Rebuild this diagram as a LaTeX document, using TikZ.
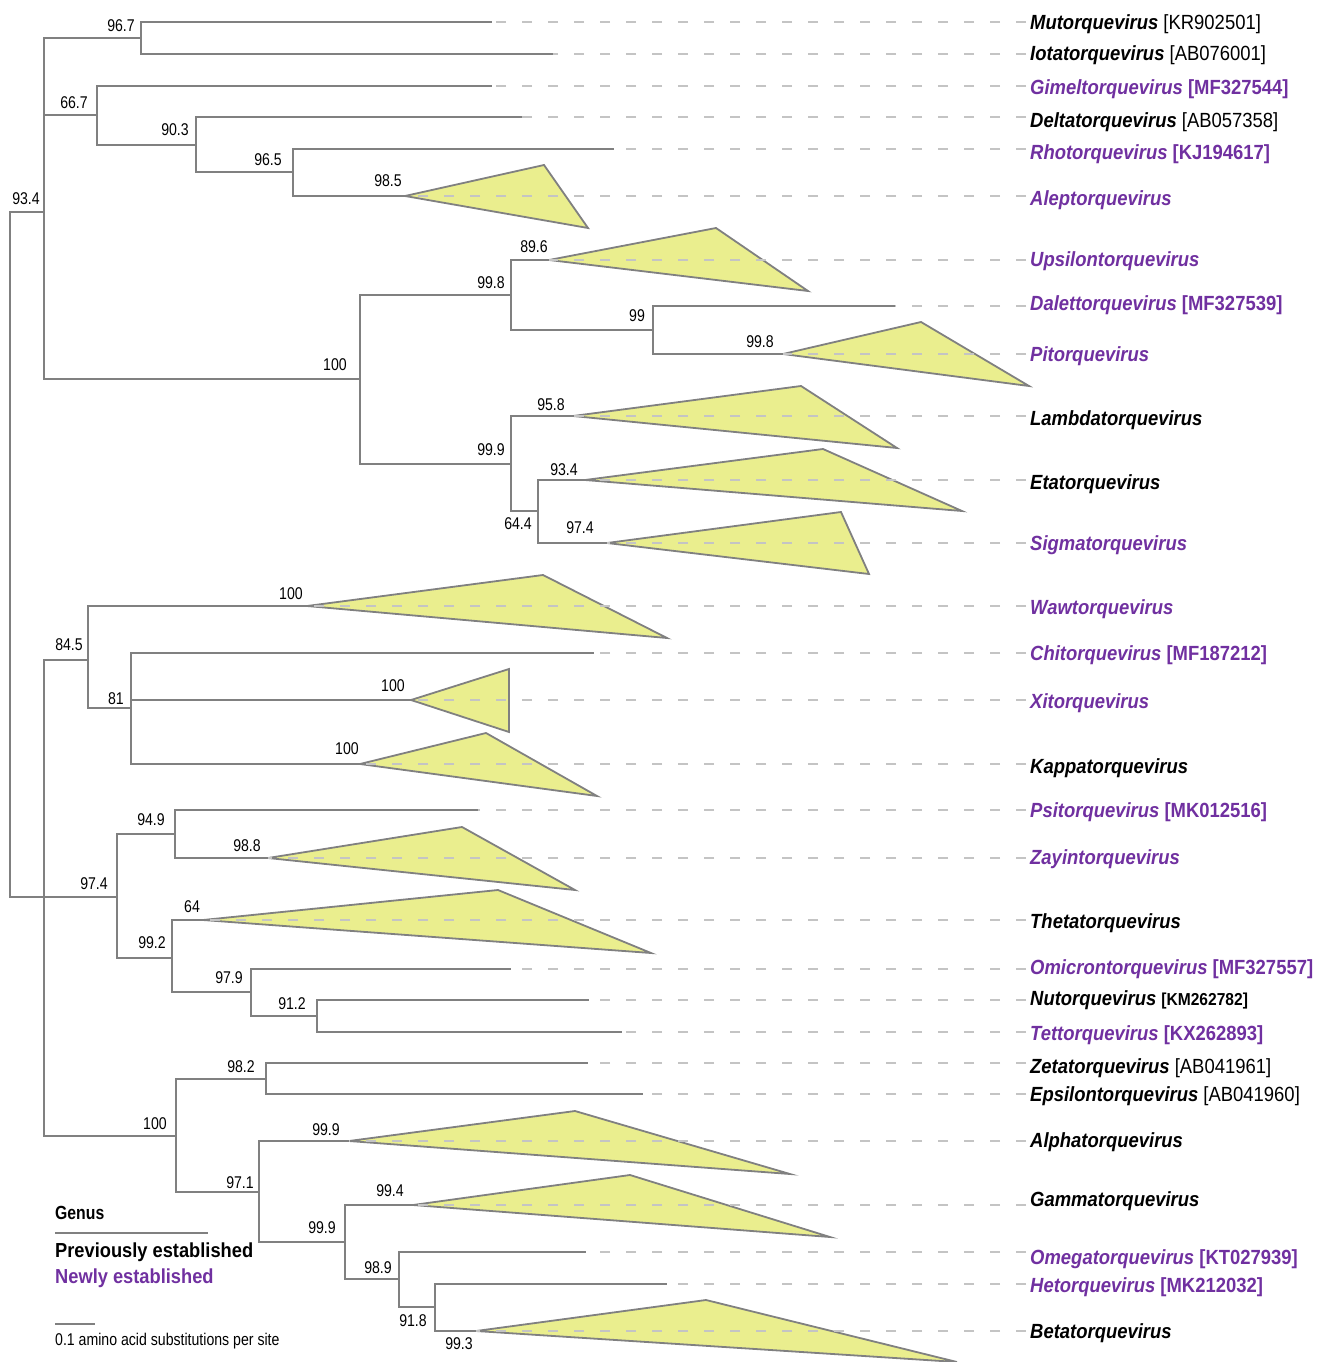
\documentclass[tikz,border=0pt]{standalone}
\usepackage{fontspec}
\setmainfont{Liberation Sans}
\newfontfamily\narrowfont{Liberation Sans}[FakeStretch=0.83]
\newfontfamily\labfont{Liberation Sans}[FakeStretch=0.9]
\definecolor{treegray}{HTML}{808080}
\definecolor{dashgray}{HTML}{C4C4C4}
\definecolor{purp}{HTML}{7030A0}
\definecolor{cladefill}{HTML}{EAEE8E}
\newcommand\gname[1]{\textbf{\textit{#1}}}
\newcommand\accb[1]{\textbf{#1}}
\begin{document}
\begin{tikzpicture}[x=1pt,y=-1pt,
  br/.style={draw=treegray,line width=2pt},
  tri/.style={draw=treegray,fill=cladefill,line width=1.8pt,line join=miter},
  dl/.style={draw=dashgray,line width=1.3pt,dash pattern=on 10pt off 16pt},
  bs/.style={inner sep=0pt,font=\narrowfont\fontsize{17}{19}\selectfont},
  lab/.style={anchor=base west,inner sep=0pt,font=\labfont\fontsize{20.5}{24}\selectfont},
  blk/.style={lab,text=black},
  pur/.style={lab,text=purp}]
\useasboundingbox (0,0) rectangle (1324,1362);
% internal nodes
\coordinate (root) at (10,555);
\coordinate (A) at (44,212);
\coordinate (B) at (141,38);
\coordinate (C) at (97,115);
\coordinate (D) at (360,379);
\coordinate (E) at (196,145);
\coordinate (F) at (293,172);
\coordinate (G) at (511,295);
\coordinate (H) at (653,330);
\coordinate (I) at (511,464);
\coordinate (J) at (538,511);
\coordinate (K) at (44,897);
\coordinate (L) at (88,660);
\coordinate (M) at (131,708);
\coordinate (N) at (117,897);
\coordinate (O) at (175,834);
\coordinate (P) at (172,958);
\coordinate (Q) at (251,992);
\coordinate (R) at (317,1016);
\coordinate (S) at (176,1136);
\coordinate (T) at (266,1079);
\coordinate (U) at (259,1192);
\coordinate (V) at (345,1242);
\coordinate (W) at (399,1279);
\coordinate (X) at (435,1307);
% leaves / clade apexes
\coordinate (muto) at (492,22);
\coordinate (iota) at (553,54);
\coordinate (gimel) at (492,86);
\coordinate (delta) at (522,117);
\coordinate (rho) at (614,149);
\coordinate (alep) at (405,196);
\coordinate (ups) at (549,260);
\coordinate (dalet) at (895,306);
\coordinate (pito) at (783,354);
\coordinate (lambda) at (573,416);
\coordinate (eta) at (585,480);
\coordinate (sigma) at (607,543);
\coordinate (waw) at (307,606);
\coordinate (chito) at (594,653);
\coordinate (xito) at (411,700);
\coordinate (kappa) at (360,764);
\coordinate (psito) at (478,810);
\coordinate (zayin) at (268,858);
\coordinate (theta) at (203,920);
\coordinate (omicron) at (511,969);
\coordinate (nuto) at (589,1000);
\coordinate (tetto) at (622,1032);
\coordinate (zeta) at (588,1063);
\coordinate (eps) at (643,1094);
\coordinate (alpha) at (349,1141);
\coordinate (gamma) at (413,1205);
\coordinate (omega) at (586,1252);
\coordinate (heto) at (667,1284);
\coordinate (beta) at (476,1331);
\coordinate (dend) at (1026,0);
% tree branches
\draw[br] (root) |- (A); \draw[br] (root) |- (K);
\draw[br] (A) |- (B); \draw[br] (A) |- (C); \draw[br] (A) |- (D);
\draw[br] (B) |- (muto); \draw[br] (B) |- (iota);
\draw[br] (C) |- (gimel); \draw[br] (C) |- (E);
\draw[br] (E) |- (delta); \draw[br] (E) |- (F);
\draw[br] (F) |- (rho); \draw[br] (F) |- (alep);
\draw[br] (D) |- (G); \draw[br] (D) |- (I);
\draw[br] (G) |- (ups); \draw[br] (G) |- (H);
\draw[br] (H) |- (dalet); \draw[br] (H) |- (pito);
\draw[br] (I) |- (lambda); \draw[br] (I) |- (J);
\draw[br] (J) |- (eta); \draw[br] (J) |- (sigma);
\draw[br] (K) |- (L); \draw[br] (K) |- (N); \draw[br] (K) |- (S);
\draw[br] (L) |- (waw); \draw[br] (L) |- (M);
\draw[br] (M) |- (chito); \draw[br] (M) |- (xito); \draw[br] (M) |- (kappa);
\draw[br] (N) |- (O); \draw[br] (N) |- (P);
\draw[br] (O) |- (psito); \draw[br] (O) |- (zayin);
\draw[br] (P) |- (theta); \draw[br] (P) |- (Q);
\draw[br] (Q) |- (omicron); \draw[br] (Q) |- (R);
\draw[br] (R) |- (nuto); \draw[br] (R) |- (tetto);
\draw[br] (S) |- (T); \draw[br] (S) |- (U);
\draw[br] (T) |- (zeta); \draw[br] (T) |- (eps);
\draw[br] (U) |- (alpha); \draw[br] (U) |- (V);
\draw[br] (V) |- (gamma); \draw[br] (V) |- (W);
\draw[br] (W) |- (omega); \draw[br] (W) |- (X);
\draw[br] (X) |- (heto); \draw[br] (X) |- (beta);
% collapsed clades
\filldraw[tri] (alep) -- (544,165) -- (588,228) -- cycle;
\filldraw[tri] (ups) -- (716,228) -- (808,291) -- cycle;
\filldraw[tri] (pito) -- (921,322) -- (1029,386) -- cycle;
\filldraw[tri] (lambda) -- (801,386) -- (897,448) -- cycle;
\filldraw[tri] (eta) -- (823,449) -- (962,511) -- cycle;
\filldraw[tri] (sigma) -- (841,512) -- (869,574) -- cycle;
\filldraw[tri] (waw) -- (543,575) -- (667,638) -- cycle;
\filldraw[tri] (xito) -- (509,669) -- (509,732) -- cycle;
\filldraw[tri] (kappa) -- (486,733) -- (597,796) -- cycle;
\filldraw[tri] (zayin) -- (462,827) -- (575,890) -- cycle;
\filldraw[tri] (theta) -- (498,890) -- (651,953) -- cycle;
\filldraw[tri] (alpha) -- (575,1111) -- (790,1174) -- cycle;
\filldraw[tri] (gamma) -- (630,1175) -- (830,1237) -- cycle;
\filldraw[tri] (beta) -- (706,1300) -- (957,1362) -- cycle;
% dashed guides
\foreach \n in {muto,iota,gimel,delta,rho,alep,ups,dalet,pito,lambda,eta,sigma,waw,chito,xito,kappa,psito,zayin,theta,omicron,nuto,tetto,zeta,eps,alpha,gamma,omega,heto,beta}
  \draw[dl] (\n -| dend) -- (\n);
% support values
\node[bs] (s1) at (26,199) {93.4};
\node[bs] (s2) at (121,26) {96.7};
\node[bs] (s3) at (74,103) {66.7};
\node[bs] (s4) at (175,130) {90.3};
\node[bs] (s5) at (268,160) {96.5};
\node[bs] (s6) at (388,181) {98.5};
\node[bs] (s7) at (534,247) {89.6};
\node[bs] (s8) at (491,283) {99.8};
\node[bs] (s9) at (637,316) {99};
\node[bs] (s10) at (760,342) {99.8};
\node[bs] (s11) at (335,365) {100};
\node[bs] (s12) at (551,405) {95.8};
\node[bs] (s13) at (491,450) {99.9};
\node[bs] (s14) at (564,470) {93.4};
\node[bs] (s15) at (518,524) {64.4};
\node[bs] (s16) at (580,528) {97.4};
\node[bs] (s17) at (291,594) {100};
\node[bs] (s18) at (69,645) {84.5};
\node[bs] (s19) at (116,699) {81};
\node[bs] (s20) at (393,686) {100};
\node[bs] (s21) at (347,749) {100};
\node[bs] (s22) at (151,820) {94.9};
\node[bs] (s23) at (247,846) {98.8};
\node[bs] (s24) at (94,884) {97.4};
\node[bs] (s25) at (192,907) {64};
\node[bs] (s26) at (152,943) {99.2};
\node[bs] (s27) at (229,978) {97.9};
\node[bs] (s28) at (292,1004) {91.2};
\node[bs] (s29) at (241,1067) {98.2};
\node[bs] (s30) at (155,1124) {100};
\node[bs] (s31) at (326,1130) {99.9};
\node[bs] (s32) at (240,1183) {97.1};
\node[bs] (s33) at (390,1191) {99.4};
\node[bs] (s34) at (322,1228) {99.9};
\node[bs] (s35) at (378,1268) {98.9};
\node[bs] (s36) at (413,1321) {91.8};
\node[bs] (s37) at (459,1344) {99.3};
% genus labels
\node[blk] (l1) at (1030,29.5) {\gname{Mutorquevirus} [KR902501]};
\node[blk] (l2) at (1030,61) {\gname{Iotatorquevirus} [AB076001]};
\node[pur] (l3) at (1030,95) {\gname{Gimeltorquevirus} \accb{[MF327544]}};
\node[blk] (l4) at (1030,128) {\gname{Deltatorquevirus} [AB057358]};
\node[pur] (l5) at (1030,160) {\gname{Rhotorquevirus} \accb{[KJ194617]}};
\node[pur] (l6) at (1030,205) {\gname{Aleptorquevirus}};
\node[pur] (l7) at (1030,266) {\gname{Upsilontorquevirus}};
\node[pur] (l8) at (1030,310) {\gname{Dalettorquevirus} \accb{[MF327539]}};
\node[pur] (l9) at (1030,361) {\gname{Pitorquevirus}};
\node[blk] (l10) at (1030,425) {\gname{Lambdatorquevirus}};
\node[blk] (l11) at (1030,489) {\gname{Etatorquevirus}};
\node[pur] (l12) at (1030,550) {\gname{Sigmatorquevirus}};
\node[pur] (l13) at (1030,614) {\gname{Wawtorquevirus}};
\node[pur] (l14) at (1030,660) {\gname{Chitorquevirus} \accb{[MF187212]}};
\node[pur] (l15) at (1030,708) {\gname{Xitorquevirus}};
\node[blk] (l16) at (1030,773) {\gname{Kappatorquevirus}};
\node[pur] (l17) at (1030,817) {\gname{Psitorquevirus} \accb{[MK012516]}};
\node[pur] (l18) at (1030,864) {\gname{Zayintorquevirus}};
\node[blk] (l19) at (1030,928) {\gname{Thetatorquevirus}};
\node[pur] (l20) at (1030,974) {\gname{Omicrontorquevirus} \accb{[MF327557]}};
\node[blk] (l21) at (1030,1005) {\gname{Nutorquevirus} {\fontsize{17.3}{20}\selectfont\bfseries [KM262782]}};
\node[pur] (l22) at (1030,1040) {\gname{Tettorquevirus} \accb{[KX262893]}};
\node[blk] (l23) at (1030,1073) {\gname{Zetatorquevirus} [AB041961]};
\node[blk] (l24) at (1030,1101) {\gname{Epsilontorquevirus} [AB041960]};
\node[blk] (l25) at (1030,1147) {\gname{Alphatorquevirus}};
\node[blk] (l26) at (1030,1206) {\gname{Gammatorquevirus}};
\node[pur] (l27) at (1030,1264) {\gname{Omegatorquevirus} \accb{[KT027939]}};
\node[pur] (l28) at (1030,1292) {\gname{Hetorquevirus} \accb{[MK212032]}};
\node[blk] (l29) at (1030,1338) {\gname{Betatorquevirus}};
% legend
\node[anchor=base west,inner sep=0pt,font=\narrowfont\fontsize{19}{22}\selectfont\bfseries] (lg) at (55,1219) {Genus};
\coordinate (lgA) at (55,1233);
\coordinate (lgB) at (208,1233);
\draw[br,line width=1.6pt] (lgA) -- (lgB);
\node[anchor=base west,inner sep=0pt,font=\labfont\fontsize{20.3}{24}\selectfont\bfseries] (lp) at (55,1257.5) {Previously established};
\node[anchor=base west,inner sep=0pt,text=purp,font=\labfont\fontsize{20.3}{24}\selectfont\bfseries] (ln) at (55,1283.5) {Newly established};
\coordinate (scA) at (55,1324);
\coordinate (scB) at (95,1324);
\draw[br,line width=1.6pt] (scA) -- (scB);
\node[anchor=base west,inner sep=0pt,font=\narrowfont\fontsize{17}{19}\selectfont] (sc) at (55,1345) {0.1 amino acid substitutions per site};
\end{tikzpicture}
\end{document}
